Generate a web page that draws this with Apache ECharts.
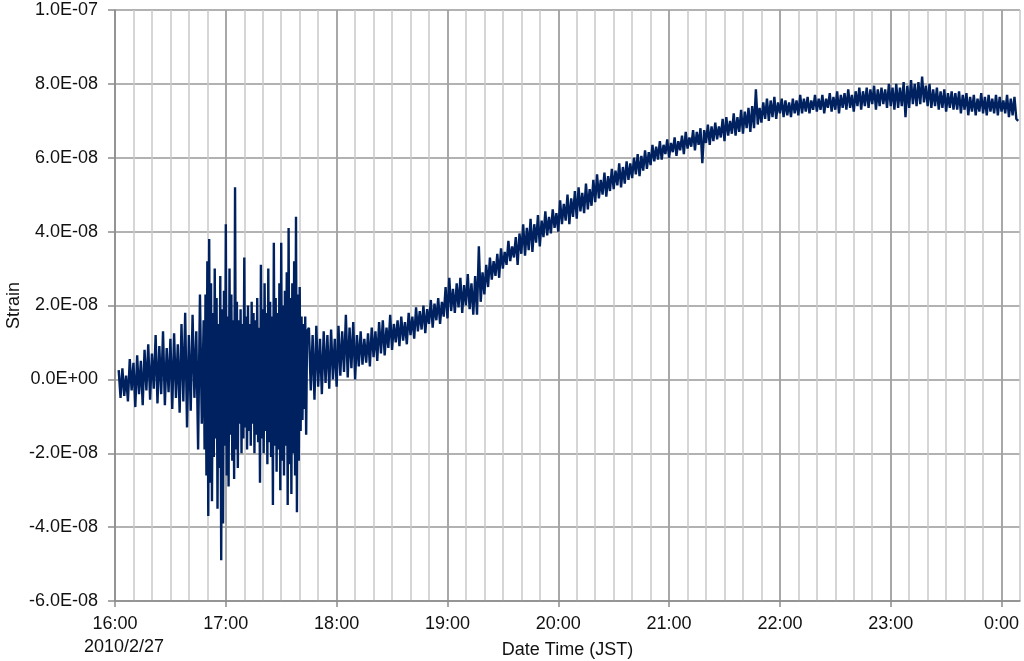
<!DOCTYPE html>
<html>
<head>
<meta charset="utf-8">
<title>Strain</title>
<script src="https://cdn.jsdelivr.net/npm/echarts@6/dist/echarts.min.js"></script>
<style>
  html, body { margin: 0; padding: 0; background: #fff; }
  #chart { width: 1024px; height: 661px; }
</style>
</head>
<body>
<div id="chart"></div>
<script>
// strain values in units of 1E-08, x in minutes after 16:00 JST (2010/2/27)
// calm part before the quake, one value a minute from 16:02
const preQuake = [
  0.25, -0.5, 0.3, -0.45, 0.1, -0.6, 0.55, -0.3, 0.45, -0.75,
  0.65, -0.4, 0.5, -0.7, 0.8, -0.3, 0.95, -0.55, 0.7, -0.25,
  1.2, -0.65, 0.9, -0.4, 1.3, -0.7, 0.85, -0.35, 1.1, -0.8,
  1.25, -0.5, 0.95, -0.9, 1.5, -0.6, 1.8, -1.3, 1.2, -0.85,
  1.75, -0.5, 1.3, -1.9, 2.3, -1.2, 1.6
]
// shaking, every half minute from 16:48:30
const quake = [
  -1.9, 2.3, -2.6, 3.2, -3.7, 3.8, -2.8, 2.6, -3.3, 1.8, -2.1, 3.0, -1.6, 2.2, -3.5, 1.5,
  -2.4, 2.8, -4.9, 1.9, -3.9, 2.4, -1.8, 4.2, -2.6, 1.7, -2.9, 3.0, -1.5, 2.3, -2.2, 1.6,
  -2.7, 5.2, -1.9, 2.1, -2.4, 1.6, -1.2, 1.9, -2.0, 1.5, -1.6, 3.3, -1.3, 1.7, -1.9, 2.0,
  -1.4, 1.5, -1.8, 2.1, -1.2, 1.8, -2.0, 1.6, -1.5, 2.2, -1.7, 1.4, -2.8, 3.1, -1.6, 1.9,
  -2.0, 2.6, -1.4, 1.8, -2.3, 3.0, -1.7, 2.1, -2.1, 1.7, -3.4, 3.7, -1.8, 2.2, -2.5, 1.8,
  -1.9, 2.6, -3.0, 3.7, -2.2, 2.0, -2.6, 2.4, -1.8, 2.9, -3.4, 4.1, -2.3, 2.2, -3.1, 2.6,
  -2.0, 3.2, -2.6, 4.4, -3.6, 2.3, -2.2, 2.5, -1.4, 1.7, -1.1, 1.5, -0.8, 1.7, -1.5, 1.3
]
// slow rise and plateau, one value a minute from 17:45
const recovery = [
  1.4, -0.3, 1.2, -0.55, 1.45, -0.2, 1.1, -0.4, 1.3, -0.1,
  1.2, -0.25, 1.35, 0.0, 1.1, -0.2, 1.45, 0.1, 1.3, 0.2,
  1.75, 0.05, 1.4, 0.3, 1.55, 0.0, 1.2, 0.35, 1.3, 0.4,
  1.1, 0.45, 1.25, 0.35, 1.4, 0.6, 1.3, 0.5, 1.55, 0.7,
  1.6, 0.65, 1.4, 0.85, 1.75, 0.8, 1.5, 1.0, 1.6, 0.9,
  1.7, 1.05, 1.55, 0.95, 1.8, 1.2, 1.7, 1.1, 1.95, 1.3,
  1.85, 1.35, 2.0, 1.25, 1.9, 1.5, 2.15, 1.4, 2.05, 1.6,
  2.2, 1.5, 2.1, 1.7, 2.5, 1.65, 2.75, 1.85, 2.45, 1.8,
  2.6, 1.95, 2.75, 1.8, 2.55, 2.0, 2.85, 1.9, 2.6, 1.75,
  2.8, 1.75, 3.6, 2.1, 2.9, 2.3, 3.1, 2.5, 3.3, 2.7,
  3.2, 2.8, 3.4, 2.75, 3.55, 3.0, 3.45, 3.1, 3.75, 3.2,
  3.6, 3.3, 3.85, 3.1, 3.95, 3.4, 4.2, 3.35, 4.1, 3.5,
  4.35, 3.45, 4.2, 3.7, 4.45, 3.6, 4.3, 3.85, 4.55, 3.9,
  4.4, 3.95, 4.6, 4.1, 4.5, 4.0, 4.85, 4.2, 4.75, 4.3,
  5.0, 4.2, 4.9, 4.4, 5.1, 4.35, 5.2, 4.55, 5.05, 4.5,
  5.3, 4.6, 5.15, 4.7, 5.4, 4.8, 5.55, 4.9, 5.4, 5.0,
  5.6, 4.95, 5.5, 5.1, 5.7, 5.15, 5.65, 5.25, 5.85, 5.2,
  5.75, 5.3, 5.9, 5.4, 5.85, 5.45, 6.0, 5.55, 6.1, 5.5,
  6.05, 5.65, 6.2, 5.7, 6.15, 5.8, 6.35, 5.9, 6.3, 5.95,
  6.45, 5.95, 6.35, 6.1, 6.5, 6.0, 6.4, 6.15, 6.55, 6.05,
  6.45, 6.2, 6.6, 6.1, 6.7, 6.25, 6.55, 6.3, 6.75, 6.2,
  6.7, 6.35, 6.8, 5.85, 6.75, 6.4, 6.9, 6.35, 6.85, 6.45,
  6.95, 6.5, 6.85, 6.55, 7.05, 6.45, 7.1, 6.6, 7.0, 6.65,
  7.2, 6.6, 7.1, 6.7, 7.3, 6.65, 7.25, 6.8, 7.35, 6.7,
  7.4, 6.8, 7.85, 6.9, 7.35, 6.95, 7.5, 7.05, 7.6, 7.0,
  7.55, 7.1, 7.65, 7.05, 7.5, 7.2, 7.6, 7.1, 7.55, 7.15,
  7.5, 7.1, 7.6, 7.2, 7.55, 7.15, 7.7, 7.2, 7.6, 7.25,
  7.65, 7.2, 7.55, 7.3, 7.7, 7.25, 7.6, 7.3, 7.7, 7.2,
  7.6, 7.35, 7.75, 7.25, 7.65, 7.3, 7.8, 7.2, 7.7, 7.35,
  7.75, 7.3, 7.85, 7.35, 7.7, 7.25, 7.8, 7.4, 7.9, 7.3,
  7.8, 7.4, 7.9, 7.35, 7.85, 7.45, 7.95, 7.3, 7.85, 7.4,
  7.9, 7.45, 7.85, 7.35, 8.0, 7.4, 7.9, 7.3, 8.0, 7.35,
  7.9, 7.4, 8.05, 7.1, 7.95, 7.35, 8.1, 7.45, 8.0, 7.4,
  8.05, 7.45, 8.2, 7.5, 7.95, 7.4, 8.0, 7.35, 7.85, 7.4,
  7.9, 7.3, 7.8, 7.35, 7.85, 7.25, 7.75, 7.35, 7.8, 7.3,
  7.75, 7.3, 7.8, 7.2, 7.7, 7.3, 7.75, 7.15, 7.65, 7.25,
  7.7, 7.15, 7.6, 7.25, 7.75, 7.2, 7.65, 7.15, 7.7, 7.25,
  7.6, 7.2, 7.7, 7.15, 7.65, 7.25, 7.55, 7.2, 7.7, 7.1,
  7.6, 7.15, 7.65, 7.05, 7.0
]
const yTicks = { min: -6, max: 10, step: 2 }
const xRange = { min: 0, max: 490 } // 16:00 .. 0:10
const dateLabel = '2010/2/27'

function seg(start, step, vals) {
  return vals.map((v, i) => [start + i * step, v])
}
const data = seg(2, 1, preQuake).concat(seg(48.5, 0.5, quake), seg(105, 1, recovery))

// 8.0E-08 style labels
function sci(v) {
  const s = (v * 1e-8).toExponential(1).split('e')
  const e = parseInt(s[1], 10)
  return s[0] + 'E' + (e < 0 ? '-' : '+') + String(Math.abs(e)).padStart(2, '0')
}

const font = "'Liberation Sans', Arial, sans-serif"
const chart = echarts.init(document.getElementById('chart'))
chart.setOption({
  animation: false,
  backgroundColor: '#fff',
  textStyle: { fontFamily: font },
  grid: { left: 115, right: 4, top: 10, bottom: 60, containLabel: false, outerBoundsMode: 'none' },
  xAxis: [
    {
      type: 'value',
      min: xRange.min,
      max: xRange.max,
      interval: 10,
      axisLine: { show: false },
      axisTick: { show: false },
      axisLabel: { show: false },
      splitLine: { show: true, lineStyle: { color: '#c8c8c8', width: 1.5 } }
    },
    {
      type: 'value',
      position: 'bottom',
      min: xRange.min,
      max: xRange.max,
      interval: 60,
      name: 'Date Time (JST)',
      nameLocation: 'middle',
      nameGap: 40,
      nameMoveOverlap: false,
      nameTextStyle: { fontSize: 18, color: '#111', fontFamily: font },
      axisLine: { show: true, onZero: false, lineStyle: { color: '#8c8c8c', width: 1.5 } },
      axisTick: { show: true, length: 6, lineStyle: { color: '#8c8c8c', width: 1.5 } },
      splitLine: { show: true, showMaxLine: false, lineStyle: { color: '#999', width: 1.5 } },
      axisLabel: {
        margin: 12,
        showMaxLabel: false,
        formatter: function(v) {
          if (v % 60 !== 0) return ''
          const h = (16 + v / 60) % 24
          if (v === 0) return '{t|' + h + ':00}\n{d|' + dateLabel + '}'
          return '{t|' + h + ':00}'
        },
        rich: {
          t: { fontSize: 18, lineHeight: 23, color: '#111', fontFamily: font },
          d: { fontSize: 18, lineHeight: 23, color: '#111', fontFamily: font, padding: [0, 0, 0, 18] }
        }
      }
    }
  ],
  yAxis: {
    type: 'value',
    min: yTicks.min,
    max: yTicks.max,
    interval: yTicks.step,
    name: 'Strain',
    nameLocation: 'middle',
    nameGap: 92,
    nameRotate: 90,
    nameMoveOverlap: false,
    nameTextStyle: { fontSize: 18, color: '#111', fontFamily: font },
    axisLine: { show: true, lineStyle: { color: '#8c8c8c', width: 1.5 } },
    axisTick: { show: true, length: 7, lineStyle: { color: '#8c8c8c', width: 1.5 } },
    axisLabel: { margin: 17, fontSize: 18, color: '#111', fontFamily: font, formatter: sci },
    splitLine: { show: true, lineStyle: { color: '#999', width: 1.5 } }
  },
  series: [
    {
      type: 'line',
      xAxisIndex: 0,
      data: data,
      showSymbol: false,
      symbol: 'none',
      lineStyle: { color: '#00215f', width: 2.4 },
      z: 5
    }
  ]
})
</script>
</body>
</html>
